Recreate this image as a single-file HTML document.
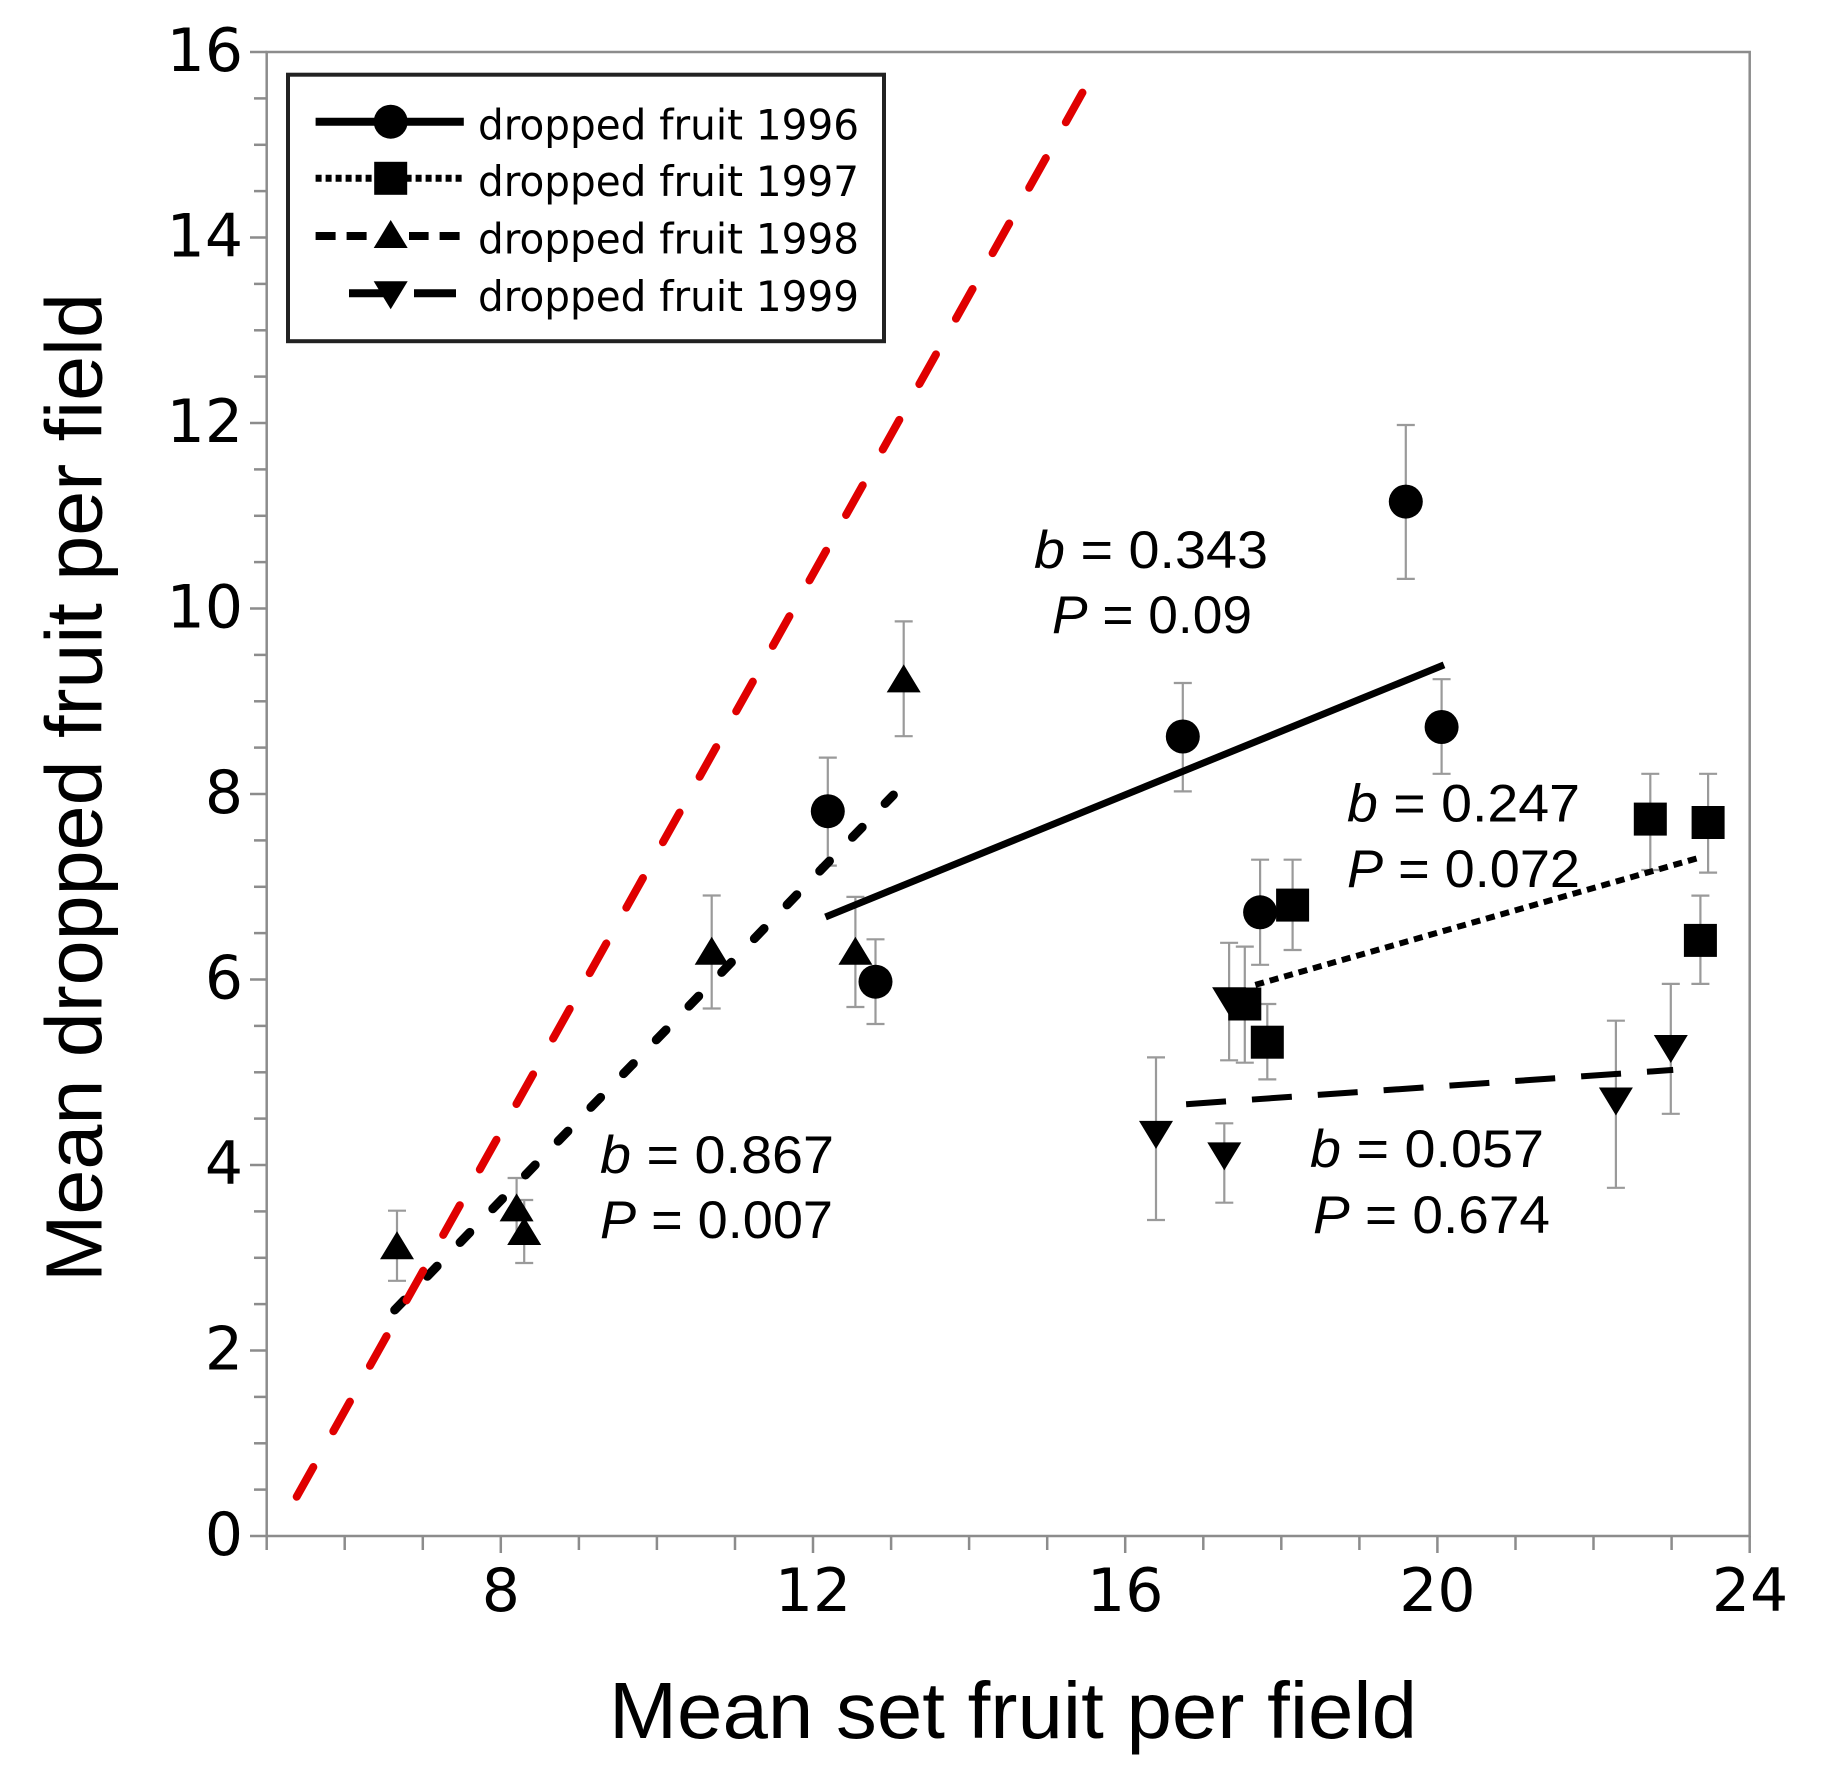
<!DOCTYPE html>
<html>
<head>
<meta charset="utf-8">
<style>
html,body{margin:0;padding:0;background:#fff;}
svg{display:block;}
</style>
</head>
<body>
<svg width="1827" height="1783" viewBox="0 0 1827 1783" xmlns="http://www.w3.org/2000/svg">
<rect x="0" y="0" width="1827" height="1783" fill="#fff"/>

<rect x="266.7" y="52" width="1483" height="1484" fill="none" stroke="#8c8c8c" stroke-width="2.5"/>

<g stroke="#8c8c8c" stroke-width="2.5">
<line x1="250" y1="1536" x2="266.7" y2="1536"/>
<line x1="254" y1="1489.6" x2="266.7" y2="1489.6"/>
<line x1="254" y1="1443.3" x2="266.7" y2="1443.3"/>
<line x1="254" y1="1396.9" x2="266.7" y2="1396.9"/>
<line x1="250" y1="1350.5" x2="266.7" y2="1350.5"/>
<line x1="254" y1="1304.1" x2="266.7" y2="1304.1"/>
<line x1="254" y1="1257.8" x2="266.7" y2="1257.8"/>
<line x1="254" y1="1211.4" x2="266.7" y2="1211.4"/>
<line x1="250" y1="1165" x2="266.7" y2="1165"/>
<line x1="254" y1="1118.6" x2="266.7" y2="1118.6"/>
<line x1="254" y1="1072.3" x2="266.7" y2="1072.3"/>
<line x1="254" y1="1025.9" x2="266.7" y2="1025.9"/>
<line x1="250" y1="979.5" x2="266.7" y2="979.5"/>
<line x1="254" y1="933.1" x2="266.7" y2="933.1"/>
<line x1="254" y1="886.8" x2="266.7" y2="886.8"/>
<line x1="254" y1="840.4" x2="266.7" y2="840.4"/>
<line x1="250" y1="794" x2="266.7" y2="794"/>
<line x1="254" y1="747.6" x2="266.7" y2="747.6"/>
<line x1="254" y1="701.3" x2="266.7" y2="701.3"/>
<line x1="254" y1="654.9" x2="266.7" y2="654.9"/>
<line x1="250" y1="608.5" x2="266.7" y2="608.5"/>
<line x1="254" y1="562.1" x2="266.7" y2="562.1"/>
<line x1="254" y1="515.8" x2="266.7" y2="515.8"/>
<line x1="254" y1="469.4" x2="266.7" y2="469.4"/>
<line x1="250" y1="423" x2="266.7" y2="423"/>
<line x1="254" y1="376.6" x2="266.7" y2="376.6"/>
<line x1="254" y1="330.3" x2="266.7" y2="330.3"/>
<line x1="254" y1="283.9" x2="266.7" y2="283.9"/>
<line x1="250" y1="237.5" x2="266.7" y2="237.5"/>
<line x1="254" y1="191.1" x2="266.7" y2="191.1"/>
<line x1="254" y1="144.8" x2="266.7" y2="144.8"/>
<line x1="254" y1="98.4" x2="266.7" y2="98.4"/>
<line x1="250" y1="52" x2="266.7" y2="52"/>
</g>

<g stroke="#8c8c8c" stroke-width="2.5">
<line x1="266.7" y1="1536" x2="266.7" y2="1550"/>
<line x1="344.7" y1="1536" x2="344.7" y2="1550"/>
<line x1="422.8" y1="1536" x2="422.8" y2="1550"/>
<line x1="500.8" y1="1536" x2="500.8" y2="1553"/>
<line x1="578.9" y1="1536" x2="578.9" y2="1550"/>
<line x1="656.9" y1="1536" x2="656.9" y2="1550"/>
<line x1="735" y1="1536" x2="735" y2="1550"/>
<line x1="813" y1="1536" x2="813" y2="1553"/>
<line x1="891.1" y1="1536" x2="891.1" y2="1550"/>
<line x1="969.1" y1="1536" x2="969.1" y2="1550"/>
<line x1="1047.2" y1="1536" x2="1047.2" y2="1550"/>
<line x1="1125.2" y1="1536" x2="1125.2" y2="1553"/>
<line x1="1203.3" y1="1536" x2="1203.3" y2="1550"/>
<line x1="1281.3" y1="1536" x2="1281.3" y2="1550"/>
<line x1="1359.4" y1="1536" x2="1359.4" y2="1550"/>
<line x1="1437.4" y1="1536" x2="1437.4" y2="1553"/>
<line x1="1515.5" y1="1536" x2="1515.5" y2="1550"/>
<line x1="1593.5" y1="1536" x2="1593.5" y2="1550"/>
<line x1="1671.6" y1="1536" x2="1671.6" y2="1550"/>
<line x1="1749.7" y1="1536" x2="1749.7" y2="1553"/>
</g>

<g font-family="DejaVu Sans, Liberation Sans, sans-serif" font-size="60" fill="#000" text-anchor="end">
<text x="243" y="1555">0</text>
<text x="243" y="1369.5">2</text>
<text x="243" y="1184">4</text>
<text x="243" y="998.5">6</text>
<text x="243" y="813">8</text>
<text x="243" y="627.5">10</text>
<text x="243" y="442">12</text>
<text x="243" y="256.5">14</text>
<text x="243" y="71">16</text>
</g>

<g font-family="DejaVu Sans, Liberation Sans, sans-serif" font-size="60" fill="#000" text-anchor="middle">
<text x="500.8" y="1611">8</text>
<text x="813" y="1611">12</text>
<text x="1125.2" y="1611">16</text>
<text x="1437.4" y="1611">20</text>
<text x="1750" y="1611">24</text>
</g>

<text x="609" y="1738" font-family="Liberation Sans, DejaVu Sans, sans-serif" font-size="80" fill="#000" textLength="808" lengthAdjust="spacingAndGlyphs">Mean set fruit per field</text>
<text transform="translate(101.7,1282) rotate(-90)" x="0" y="0" font-family="Liberation Sans, DejaVu Sans, sans-serif" font-size="80" fill="#000" textLength="989" lengthAdjust="spacingAndGlyphs">Mean dropped fruit per field</text>

<g stroke="#9a9a9a" stroke-width="2.2" fill="none">
<path d="M1405.8 425V578.9M1396.8 425H1414.8M1396.8 578.9H1414.8"/>
<path d="M1182.8 683V791.4M1173.8 683H1191.8M1173.8 791.4H1191.8"/>
<path d="M1441.6 679.2V773.8M1432.6 679.2H1450.6M1432.6 773.8H1450.6"/>
<path d="M827.8 757.6V865.6M818.8 757.6H836.8M818.8 865.6H836.8"/>
<path d="M1260.1 859.7V964.8M1251.1 859.7H1269.1M1251.1 964.8H1269.1"/>
<path d="M875.5 939.3V1024M866.5 939.3H884.5M866.5 1024H884.5"/>
<path d="M1650.3 773.8V870M1641.3 773.8H1659.3M1641.3 870H1659.3"/>
<path d="M1708.1 773.8V872.6M1699.1 773.8H1717.1M1699.1 872.6H1717.1"/>
<path d="M1700.4 895.6V983.9M1691.4 895.6H1709.4M1691.4 983.9H1709.4"/>
<path d="M1292.6 859.7V950M1283.6 859.7H1301.6M1283.6 950H1301.6"/>
<path d="M1244.8 946.6V1062.7M1235.8 946.6H1253.8M1235.8 1062.7H1253.8"/>
<path d="M1267.3 1004V1079.4M1258.3 1004H1276.3M1258.3 1079.4H1276.3"/>
<path d="M903.7 621.4V736.2M894.7 621.4H912.7M894.7 736.2H912.7"/>
<path d="M711.7 895.5V1008.5M702.7 895.5H720.7M702.7 1008.5H720.7"/>
<path d="M855.4 896.9V1007M846.4 896.9H864.4M846.4 1007H864.4"/>
<path d="M397 1210.7V1280.8M388 1210.7H406M388 1280.8H406"/>
<path d="M516.6 1178V1240M507.6 1178H525.6"/>
<path d="M524.2 1200V1263M515.2 1200H533.2M515.2 1263H533.2"/>
<path d="M1229.1 942.8V1060.3M1220.1 942.8H1238.1M1220.1 1060.3H1238.1"/>
<path d="M1156 1057.4V1220M1147 1057.4H1165M1147 1220H1165"/>
<path d="M1224.3 1123.3V1202.7M1215.3 1123.3H1233.3M1215.3 1202.7H1233.3"/>
<path d="M1615.9 1020.7V1187.8M1606.9 1020.7H1624.9M1606.9 1187.8H1624.9"/>
<path d="M1670.8 983.9V1113.8M1661.8 983.9H1679.8M1661.8 1113.8H1679.8"/>
</g>

<line x1="825.5" y1="917" x2="1444" y2="664.9" stroke="#000" stroke-width="7"/>
<line x1="1255.3" y1="984.9" x2="1697.1" y2="858.3" stroke="#000" stroke-width="6" stroke-dasharray="9 6"/>
<line x1="394.7" y1="1310" x2="893.4" y2="795" stroke="#000" stroke-width="9" stroke-linecap="round" stroke-dasharray="14 33"/>
<line x1="1186.1" y1="1104.2" x2="1673.2" y2="1069.9" stroke="#000" stroke-width="6" stroke-dasharray="40 26"/>

<g fill="#000">
<circle cx="1405.8" cy="501.6" r="17"/>
<circle cx="1182.8" cy="736.5" r="17"/>
<circle cx="1441.6" cy="727" r="17"/>
<circle cx="827.8" cy="811.2" r="17"/>
<circle cx="1260.1" cy="912.3" r="17"/>
<circle cx="875.5" cy="981.7" r="17"/>
<rect x="1633.8" y="802.6" width="33" height="33"/>
<rect x="1691.6" y="806" width="33" height="33"/>
<rect x="1683.9" y="923.9" width="33" height="33"/>
<rect x="1276.1" y="888.6" width="33" height="33"/>
<rect x="1228.3" y="987.5" width="33" height="33"/>
<rect x="1250.8" y="1025.7" width="33" height="33"/>
<path d="M903.7 664.4L920.7 692.4L886.7 692.4Z"/>
<path d="M711.7 936.7L728.7 964.7L694.7 964.7Z"/>
<path d="M855.4 936.7L872.4 964.7L838.4 964.7Z"/>
<path d="M397 1231.3L414 1259.3L380 1259.3Z"/>
<path d="M516.6 1193.4L533.6 1221.4L499.6 1221.4Z"/>
<path d="M524.2 1217L541.2 1245L507.2 1245Z"/>
<path d="M1212.1 987.2L1246.1 987.2L1229.1 1015.2Z"/>
<path d="M1139 1120.9L1173 1120.9L1156 1148.9Z"/>
<path d="M1207.3 1142.4L1241.3 1142.4L1224.3 1170.4Z"/>
<path d="M1598.9 1087.5L1632.9 1087.5L1615.9 1115.5Z"/>
<path d="M1653.8 1035L1687.8 1035L1670.8 1063Z"/>
</g>

<line x1="296.7" y1="1496.7" x2="1091.8" y2="75.9" stroke="#e00000" stroke-width="8" stroke-linecap="round" stroke-dasharray="34 41"/>

<g font-family="Liberation Sans, DejaVu Sans, sans-serif" font-size="53" fill="#000">
<text x="1034" y="568" textLength="234" lengthAdjust="spacingAndGlyphs"><tspan font-style="italic">b</tspan> = 0.343</text>
<text x="1052" y="633" textLength="200" lengthAdjust="spacingAndGlyphs"><tspan font-style="italic">P</tspan> = 0.09</text>
<text x="600" y="1173" textLength="234" lengthAdjust="spacingAndGlyphs"><tspan font-style="italic">b</tspan> = 0.867</text>
<text x="600" y="1238" textLength="233" lengthAdjust="spacingAndGlyphs"><tspan font-style="italic">P</tspan> = 0.007</text>
<text x="1347" y="821.5" textLength="233" lengthAdjust="spacingAndGlyphs"><tspan font-style="italic">b</tspan> = 0.247</text>
<text x="1347" y="887" textLength="233" lengthAdjust="spacingAndGlyphs"><tspan font-style="italic">P</tspan> = 0.072</text>
<text x="1310" y="1167" textLength="234" lengthAdjust="spacingAndGlyphs"><tspan font-style="italic">b</tspan> = 0.057</text>
<text x="1313" y="1233" textLength="237" lengthAdjust="spacingAndGlyphs"><tspan font-style="italic">P</tspan> = 0.674</text>
</g>

<rect x="288" y="74.7" width="596" height="266.5" fill="#fff" stroke="#222" stroke-width="4"/>
<line x1="315.6" y1="121.7" x2="463.8" y2="121.7" stroke="#000" stroke-width="8"/>
<circle cx="390.7" cy="121.7" r="17" fill="#000"/>
<line x1="315.6" y1="178.3" x2="463.8" y2="178.3" stroke="#000" stroke-width="7" stroke-dasharray="6 4"/>
<rect x="374.2" y="161.8" width="33" height="33" fill="#000"/>
<line x1="315.6" y1="236" x2="463.8" y2="236" stroke="#000" stroke-width="8" stroke-dasharray="20 11"/>
<rect x="372" y="225" width="37" height="22" fill="#fff"/>
<path d="M390.7 220L407.7 248L373.7 248Z" fill="#000"/>
<line x1="349" y1="293.3" x2="456" y2="293.3" stroke="#000" stroke-width="8"/>
<rect x="385" y="285" width="29" height="17" fill="#fff"/>
<path d="M373.7 281.3L407.7 281.3L390.7 309.3Z" fill="#000"/>
<g font-family="DejaVu Sans, Liberation Sans, sans-serif" font-size="42" fill="#000">
<text x="478" y="139.3" textLength="381" lengthAdjust="spacingAndGlyphs">dropped fruit 1996</text>
<text x="478" y="196" textLength="381" lengthAdjust="spacingAndGlyphs">dropped fruit 1997</text>
<text x="478" y="253.6" textLength="381" lengthAdjust="spacingAndGlyphs">dropped fruit 1998</text>
<text x="478" y="311" textLength="381" lengthAdjust="spacingAndGlyphs">dropped fruit 1999</text>
</g>
</svg>
</body>
</html>
